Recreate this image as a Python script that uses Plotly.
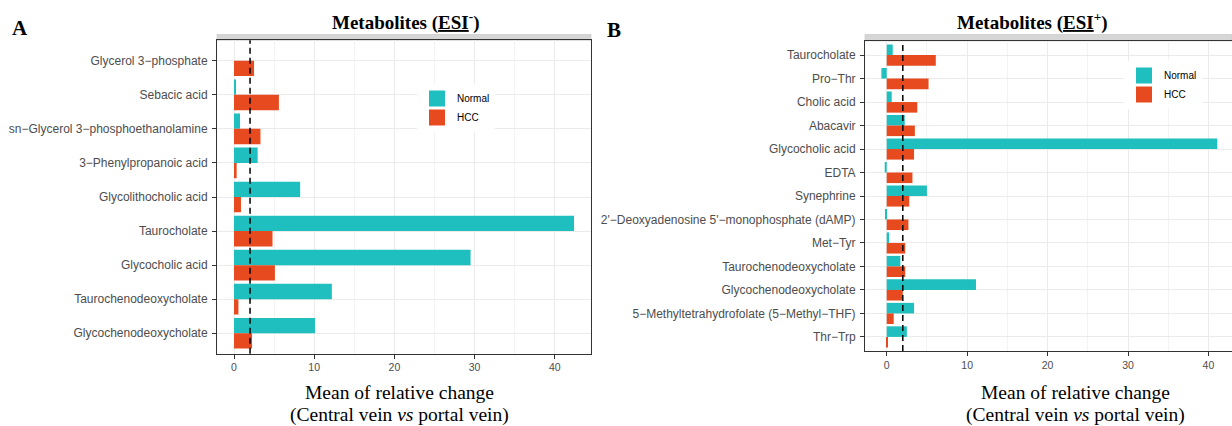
import plotly.graph_objects as go

# ---------------- data ----------------
cats_a = ["Glycerol 3−phosphate", "Sebacic acid", "sn−Glycerol 3−phosphoethanolamine",
          "3−Phenylpropanoic acid", "Glycolithocholic acid", "Taurocholate",
          "Glycocholic acid", "Taurochenodeoxycholate", "Glycochenodeoxycholate"]
normal_a = [0.0, 0.25, 0.75, 2.95, 8.25, 42.4, 29.5, 12.2, 10.1]
hcc_a = [2.5, 5.6, 3.3, 0.33, 0.87, 4.8, 5.1, 0.55, 2.25]

cats_b = ["Taurocholate", "Pro−Thr", "Cholic acid", "Abacavir", "Glycocholic acid", "EDTA",
          "Synephrine", "2'−Deoxyadenosine 5'−monophosphate (dAMP)", "Met−Tyr",
          "Taurochenodeoxycholate", "Glycochenodeoxycholate",
          "5−Methyltetrahydrofolate (5−Methyl−THF)", "Thr−Trp"]
normal_b = [0.75, -0.66, 0.62, 2.24, 41.1, -0.25, 5.0, -0.1, 0.3, 1.7, 11.1, 3.4, 2.5]
hcc_b = [6.1, 5.2, 3.8, 3.5, 3.4, 3.2, 2.8, 2.7, 2.3, 2.3, 2.0, 0.87, 0.08]

x_ticks = [0, 10, 20, 30, 40]
x_minor = [5, 15, 25, 35]
threshold = 2

# ---------------- style ----------------
W, H = 1232, 426
TEAL = "#1FBFBF"
ORANGE = "#E64A1E"
SANS = "Liberation Sans"
SERIF = "Liberation Serif"


def px(x):
    return x / W


def py(y):
    return 1 - y / H


fig = go.Figure()

for cats, nv, hv, xa, ya, lg, grp in [
    (cats_a, normal_a, hcc_a, "x", "y", "legend", "a"),
    (cats_b, normal_b, hcc_b, "x2", "y2", "legend2", "b"),
]:
    fig.add_trace(go.Bar(y=cats, x=nv, orientation="h", name="Normal", marker_color=TEAL,
                         marker_line_width=0, xaxis=xa, yaxis=ya, showlegend=False,
                         legendgroup=grp + "n"))
    fig.add_trace(go.Bar(y=cats, x=hv, orientation="h", name="HCC", marker_color=ORANGE,
                         marker_line_width=0, xaxis=xa, yaxis=ya, showlegend=False,
                         legendgroup=grp + "h"))
    # legend keys (square symbols)
    fig.add_trace(go.Scatter(x=[None], y=[None], mode="markers", name="Normal",
                             marker=dict(symbol="square", size=16, color=TEAL),
                             xaxis=xa, yaxis=ya, legend=lg, legendgroup=grp + "n"))
    fig.add_trace(go.Scatter(x=[None], y=[None], mode="markers", name="HCC",
                             marker=dict(symbol="square", size=16, color=ORANGE),
                             xaxis=xa, yaxis=ya, legend=lg, legendgroup=grp + "h"))

common_x = dict(
    tickvals=x_ticks, showgrid=True, gridcolor="#EBEBEB", gridwidth=1,
    minor=dict(tickvals=x_minor, showgrid=True, gridcolor="#F3F3F3", gridwidth=0.7, ticks=""),
    showline=True, mirror=True, linecolor="#333333", linewidth=1,
    ticks="outside", ticklen=4, tickcolor="#333333", tickwidth=1,
    tickfont=dict(family=SANS, size=10.5, color="#4D4D4D"), zeroline=False,
    automargin=False, fixedrange=True,
)
common_y = dict(
    type="category", showgrid=True, gridcolor="#EBEBEB", gridwidth=1,
    showline=True, mirror=True, linecolor="#333333", linewidth=1,
    ticks="outside", ticklen=4, tickcolor="#333333", tickwidth=1,
    tickfont=dict(family=SANS, size=12, color="#4D4D4D"), automargin=False,
    fixedrange=True, ticklabelstandoff=2,
)

fig.update_layout(
    width=W, height=H, margin=dict(l=0, r=0, t=0, b=0),
    paper_bgcolor="white", plot_bgcolor="white",
    barmode="group", bargap=0.1, bargroupgap=0,
    xaxis=dict(domain=[px(217), px(591)], range=[-2.12, 44.52], anchor="y", **common_x),
    yaxis=dict(domain=[py(353.7), py(40.3)], anchor="x", categoryorder="array",
               categoryarray=cats_a, range=[len(cats_a) - 0.4, -0.6], **common_y),
    xaxis2=dict(domain=[px(865), 1.0], range=[-2.7, 42.93], anchor="y2", **common_x),
    yaxis2=dict(domain=[py(351), py(41)], anchor="x2", categoryorder="array",
                categoryarray=cats_b, range=[len(cats_b) - 0.4, -0.6], **common_y),
    legend=dict(x=px(417), y=py(84), xanchor="left", yanchor="top", bgcolor="white",
                font=dict(family=SANS, size=10, color="black"), tracegroupgap=0, itemwidth=30),
    legend2=dict(x=px(1124), y=py(61), xanchor="left", yanchor="top", bgcolor="white",
                 font=dict(family=SANS, size=10, color="black"), tracegroupgap=0, itemwidth=30),
    showlegend=True,
)

shapes = []
for xr, yr in [("x", "y"), ("x2", "y2")]:
    shapes.append(dict(type="line", xref=xr, yref=yr + " domain", x0=threshold, x1=threshold,
                       y0=0, y1=1, line=dict(color="black", width=1.5, dash="6px,4px"),
                       layer="above"))
# facet strips
for x0, x1, y1 in [(217, 591, 40.3), (865, 1232, 41)]:
    shapes.append(dict(type="rect", xref="paper", yref="paper", x0=px(x0), x1=px(x1),
                       y0=py(y1), y1=py(34.5), fillcolor="#D6D6D6",
                       line=dict(color="#BDBDBD", width=0.5), layer="below"))
fig.update_layout(shapes=shapes)

ann = []


def text(x, y, t, size, family=SERIF, color="black"):
    ann.append(dict(x=px(x), y=py(y), xref="paper", yref="paper", text=t, showarrow=False,
                    xanchor="center", yanchor="middle",
                    font=dict(family=family, size=size, color=color)))


text(20, 28, "<b>A</b>", 21)
text(614, 30, "<b>B</b>", 21)
text(405, 22, "<b>Metabolites (<u>ESI</u><sup>-</sup>)</b>", 19)
text(1032, 22, "<b>Metabolites (<u>ESI</u><sup>+</sup>)</b>", 19)
for cx in (399, 1075):
    text(cx, 392, "Mean of relative change", 19.5)
    text(cx, 415, "(Central vein <i>vs</i> portal vein)", 19.5)
fig.update_layout(annotations=ann)

fig.write_html("out.html")
